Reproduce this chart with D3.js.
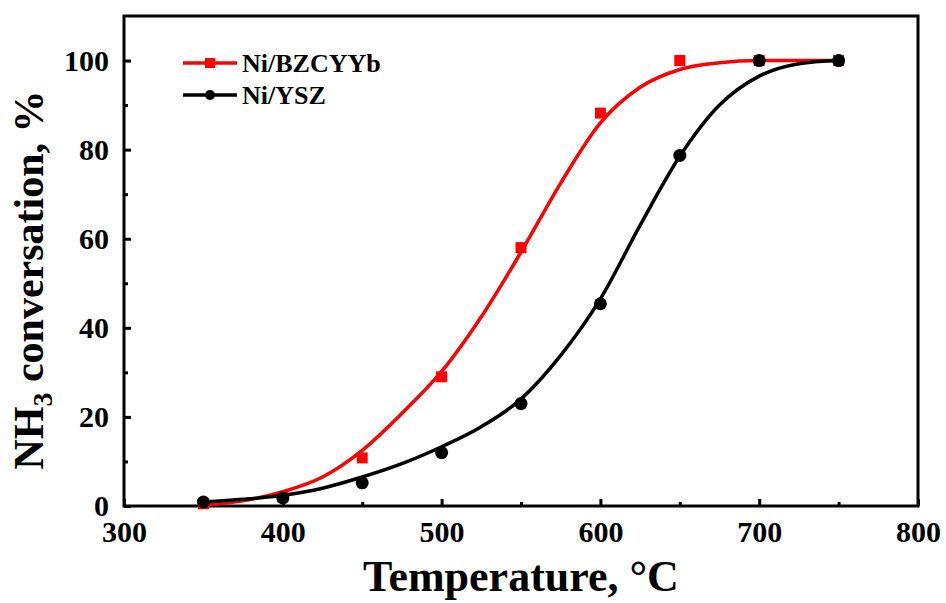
<!DOCTYPE html>
<html>
<head>
<meta charset="utf-8">
<script src="https://cdn.jsdelivr.net/npm/d3@7"></script>
<style>
  body { margin: 0; background: #fff; }
  text { font-family: "Liberation Serif", "Times New Roman", serif; font-weight: bold; }
</style>
</head>
<body>
<div id="chart"></div>
<script>
// Data_______________________________________________________
const temps = [350, 400, 450, 500, 550, 600, 650, 700, 750];
const bzcyyb = [0.5, 2.0, 10.8, 29, 58, 88.2, 100, 100, 100];
const ysz = [0.9, 1.8, 5.2, 12, 23, 45.4, 78.7, 100, 100];

// fitted curves every 25 °C
const fitTemps = [350, 375, 400, 425, 450, 475, 500, 525, 550, 575, 600, 625, 650, 675, 700, 725, 750];
const bzcyybFit = [0.2, 1.2, 3.2, 6.5, 12.5, 20.8, 30.2, 42.5, 57, 72.5, 86, 94, 98, 99.5, 100, 100, 100];
const yszFit = [0.9, 1.5, 2.4, 4, 6.5, 9.5, 13.3, 17.8, 24, 33.8, 46.5, 63, 78.5, 90, 96.5, 99.3, 100];

const xMajor = [300, 400, 500, 600, 700, 800];
const xMinor = [350, 450, 550, 650, 750];
const yMajor = [0, 20, 40, 60, 80, 100];
const yMinor = [10, 30, 50, 70, 90];

const seriesNames = ['Ni/BZCYYb', 'Ni/YSZ'];
const seriesColors = ['#ff0000', '#000000'];

// Layout_____________________________________________________
const width = 946;
const height = 603;
const margin = { top: 16, right: 28, bottom: 97, left: 124 };
const innerW = width - margin.left - margin.right;
const innerH = height - margin.top - margin.bottom;
const fontStack = '"Liberation Serif", "Times New Roman", serif';

const x = d3.scaleLinear().domain([300, 800]).range([0, innerW]);
const y = d3.scaleLinear().domain([0, 110]).range([innerH, 0]);

const svg = d3.select('#chart')
    .append('svg')
    .attr('width', width)
    .attr('height', height);

const g = svg.append('g')
    .attr('transform', `translate(${margin.left},${margin.top})`);

// Axes (ticks pointing inward)_______________________________
const xAxis = g.append('g')
    .attr('transform', `translate(0,${innerH})`)
    .call(d3.axisBottom(x).tickValues(xMajor).tickSize(-7).tickPadding(15).tickFormat(d3.format('d')));
const xAxisMinor = g.append('g')
    .attr('transform', `translate(0,${innerH})`)
    .call(d3.axisBottom(x).tickValues(xMinor).tickSize(-4).tickFormat(''));
const yAxis = g.append('g')
    .call(d3.axisLeft(y).tickValues(yMajor).tickSize(-7).tickPadding(15).tickFormat(d3.format('d')));
const yAxisMinor = g.append('g')
    .call(d3.axisLeft(y).tickValues(yMinor).tickSize(-4).tickFormat(''));

[xAxis, xAxisMinor, yAxis, yAxisMinor].forEach(a => {
    a.select('.domain').remove();
    a.selectAll('line').attr('stroke', '#000').attr('stroke-width', 3);
    a.selectAll('text')
        .attr('fill', '#000')
        .style('font-size', '30px')
        .style('font-family', fontStack)
        .style('font-weight', 'bold');
});

// frame
g.append('rect')
    .attr('x', 0)
    .attr('y', 0)
    .attr('width', innerW)
    .attr('height', innerH)
    .attr('fill', 'none')
    .attr('stroke', '#000')
    .attr('stroke-width', 3);

// Axis titles________________________________________________
svg.append('text')
    .attr('x', margin.left + innerW / 2)
    .attr('y', 591)
    .attr('text-anchor', 'middle')
    .style('font-size', '44px')
    .text('Temperature, °C');

const yTitle = svg.append('text')
    .attr('transform', 'translate(43,280) rotate(-90)')
    .attr('text-anchor', 'middle')
    .style('font-size', '42px');
yTitle.append('tspan').text('NH');
yTitle.append('tspan').attr('dy', 9).style('font-size', '28px').text('3');
yTitle.append('tspan').attr('dy', -9).text(' conversation, %');

// Curves and markers_________________________________________
const line = d3.line()
    .x(d => x(d[0]))
    .y(d => y(d[1]))
    .curve(d3.curveMonotoneX);

const fits = [bzcyybFit, yszFit];
const points = [bzcyyb, ysz];

fits.forEach((fit, i) => {
    g.append('path')
        .datum(fitTemps.map((t, j) => [t, fit[j]]))
        .attr('d', line)
        .attr('fill', 'none')
        .attr('stroke', seriesColors[i])
        .attr('stroke-width', 3.5);

    const pts = temps.map((t, j) => [t, points[i][j]]);
    if (i === 0) {
        g.selectAll('.sq')
            .data(pts)
            .enter()
            .append('rect')
            .attr('class', 'sq')
            .attr('x', d => x(d[0]) - 5.5)
            .attr('y', d => y(d[1]) - 5.5)
            .attr('width', 11)
            .attr('height', 11)
            .attr('fill', seriesColors[i]);
    } else {
        g.selectAll('.dot')
            .data(pts)
            .enter()
            .append('circle')
            .attr('class', 'dot')
            .attr('cx', d => x(d[0]))
            .attr('cy', d => y(d[1]))
            .attr('r', 6.5)
            .attr('fill', seriesColors[i]);
    }
});

// Legend_____________________________________________________
const legend = svg.append('g')
    .attr('transform', 'translate(183,63)');

const legendItem = legend.selectAll('g')
    .data(seriesNames)
    .enter()
    .append('g')
    .attr('transform', (d, i) => `translate(0,${i * 32})`);

legendItem.append('line')
    .attr('x1', 0)
    .attr('x2', 54)
    .attr('stroke', (d, i) => seriesColors[i])
    .attr('stroke-width', 3.5);

legendItem.each(function (d, i) {
    const item = d3.select(this);
    if (i === 0) {
        item.append('rect')
            .attr('x', 22)
            .attr('y', -5)
            .attr('width', 10)
            .attr('height', 10)
            .attr('fill', seriesColors[i]);
    } else {
        item.append('circle')
            .attr('cx', 27)
            .attr('r', 5)
            .attr('fill', seriesColors[i]);
    }
});

legendItem.append('text')
    .attr('x', 59)
    .attr('y', 9)
    .style('font-size', '26px')
    .text(d => d);
</script>
</body>
</html>
